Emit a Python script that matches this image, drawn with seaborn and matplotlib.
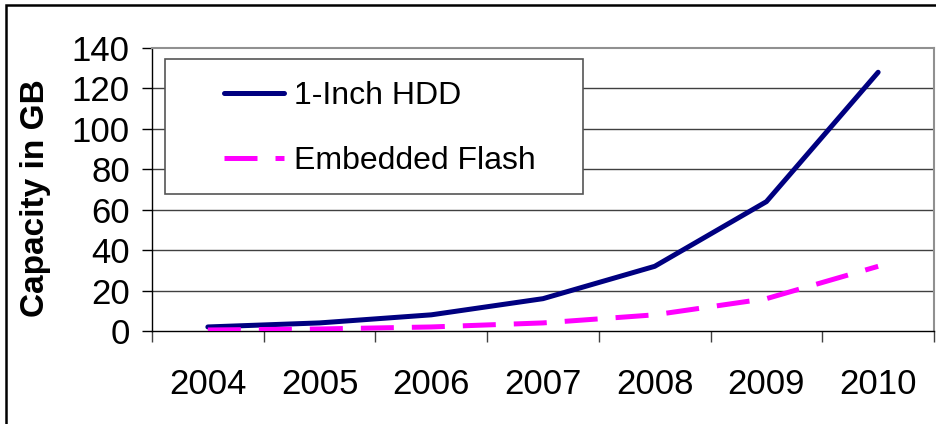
import matplotlib.pyplot as plt
import seaborn as sns
import pandas as pd
from matplotlib.patches import Rectangle

years = ['2004', '2005', '2006', '2007', '2008', '2009', '2010']
hdd = [2, 4, 8, 16, 32, 64, 128]
flash = [0.5, 1, 2, 4, 8, 16, 32]
series_names = ['1-Inch HDD', 'Embedded Flash']
y_ticks = [0, 20, 40, 60, 80, 100, 120, 140]

df = pd.DataFrame({
    'year': years * 2,
    'capacity': hdd + flash,
    'series': [series_names[0]] * len(years) + [series_names[1]] * len(years),
})
df['pos'] = list(range(len(years))) * 2

sns.set_style('white')
plt.rcParams['font.family'] = ['Liberation Sans', 'DejaVu Sans']
plt.rcParams['text.color'] = 'black'
plt.rcParams['axes.labelcolor'] = 'black'
plt.rcParams['xtick.color'] = 'black'
plt.rcParams['ytick.color'] = 'black'

fig = plt.figure(figsize=(9.37, 4.24), dpi=100)
ax = fig.add_axes([152 / 937, 93 / 424, 782 / 937, 283 / 424])

sns.lineplot(data=df, x='pos', y='capacity', hue='series', style='series',
             palette={series_names[0]: '#000080', series_names[1]: '#FF00FF'},
             dashes={series_names[0]: '', series_names[1]: (6.6, 3.6)},
             linewidth=3.6, ax=ax, legend=True, zorder=3)

ax.set_xlim(-0.5, len(years) - 0.5)
ax.set_ylim(0, 140)
ax.set_xticks(range(len(years)))
ax.set_xticklabels(years)
ax.set_xticks([i - 0.5 for i in range(len(years) + 1)], minor=True)
ax.set_yticks(y_ticks)
ax.tick_params(axis='x', which='major', length=0, pad=27, labelsize=25,
               labelcolor='black')
ax.tick_params(axis='x', which='minor', length=8, width=1, direction='out',
               bottom=True, color='#404040')
ax.tick_params(axis='y', length=7, width=1, direction='out', left=True,
               pad=9, labelsize=25, color='black', labelcolor='black')
ax.set_xlabel('')
ax.set_ylabel('Capacity in GB', fontsize=24, fontweight='bold', color='black')
ax.yaxis.set_label_coords(-0.129, 0.47)

for v in y_ticks[1:-1]:
    ax.axhline(v, color='#404040', linewidth=1, zorder=1)

for side in ['top', 'right']:
    ax.spines[side].set_color('#909090')
    ax.spines[side].set_linewidth(1.5)
for side in ['left', 'bottom']:
    ax.spines[side].set_color('black')
    ax.spines[side].set_linewidth(1)

# legend box
ax.add_patch(Rectangle((0.0166, 0.484), 0.5345, 0.477, transform=ax.transAxes,
                       facecolor='white', edgecolor='#555555', linewidth=1.2,
                       zorder=4))
handles, labels = ax.get_legend_handles_labels()
leg = ax.legend(handles, labels, loc='center left', bbox_to_anchor=(0.0921, 0.7155),
                frameon=False, fontsize=23, handlelength=1.88, handletextpad=0.3,
                labelspacing=1.11, borderpad=0, borderaxespad=0)
leg.set_zorder(5)
for t in leg.get_texts():
    t.set_color('black')

# outer frame
fig.patches.append(Rectangle((6.5 / 937, -0.1), 1.2, (424 - 5) / 424 + 0.1,
                             transform=fig.transFigure, fill=False,
                             edgecolor='black', linewidth=1.8))

fig.savefig('out.png', dpi=100)
